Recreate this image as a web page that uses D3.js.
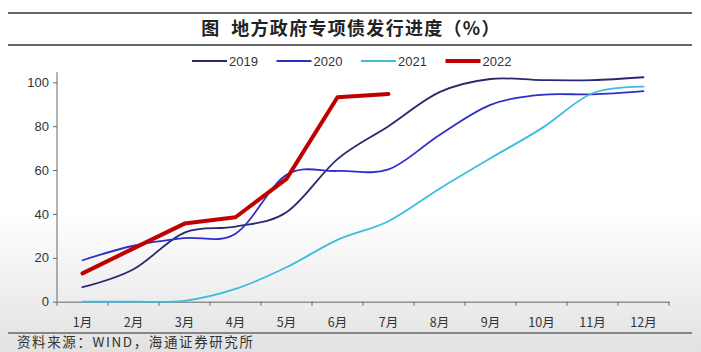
<!DOCTYPE html>
<html>
<head>
<meta charset="utf-8">
<script src="https://cdn.jsdelivr.net/npm/d3@7"></script>
<style>
  html, body { margin: 0; padding: 0; background: #fff; }
  svg { display: block; }
  text { font-family: "Liberation Sans", Arial, "Noto Sans CJK SC", sans-serif; fill: #333; }
</style>
</head>
<body>
<div id="chart"></div>
<script>
(function () {
    // 数据
    const months = ["1月", "2月", "3月", "4月", "5月", "6月", "7月", "8月", "9月", "10月", "11月", "12月"];
    const seriesNames = ["2019", "2020", "2021", "2022"];
    const v2019 = [6.6, 14.8, 31.5, 34.2, 40.8, 65, 80, 95.5, 101.5, 101, 101, 102.3];
    const v2020 = [18.9, 25.5, 29, 31, 57.8, 59.6, 60.3, 76, 89.7, 94.3, 94.5, 96];
    const v2021 = [0, 0, 0.4, 5.8, 15.7, 28.2, 36.7, 51.5, 65.4, 79, 95, 98];
    const v2022 = [12.9, 24.3, 35.6, 38.5, 56, 93.2, 94.7];
    const yTicks = [0, 20, 40, 60, 80, 100];

    const seriesValues = [v2019, v2020, v2021, v2022];
    const colors = ["#2a2970", "#2f2fc8", "#3cbde0", "#c00000"];
    const widths = [1.8, 1.8, 1.8, 4];

    const W = 701, H = 352;
    const svg = d3.select("#chart").append("svg")
        .attr("width", W).attr("height", H);

    // 背景渐变（截图下部偏灰）
    const grad = svg.append("defs").append("linearGradient")
        .attr("id", "bg").attr("x1", 0).attr("y1", 0).attr("x2", 0).attr("y2", 1);
    grad.append("stop").attr("offset", "0%").attr("stop-color", "#ffffff");
    grad.append("stop").attr("offset", "60%").attr("stop-color", "#ffffff");
    grad.append("stop").attr("offset", "100%").attr("stop-color", "#e2e2e2");
    svg.append("rect").attr("width", W).attr("height", H).attr("fill", "url(#bg)");

    // 标题与分隔线
    svg.append("line").attr("x1", 8).attr("x2", 692).attr("y1", 13).attr("y2", 13)
        .attr("stroke", "#666").attr("stroke-width", 2);
    svg.append("line").attr("x1", 8).attr("x2", 692).attr("y1", 45).attr("y2", 45)
        .attr("stroke", "#666").attr("stroke-width", 2);
    svg.append("text")
        .attr("x", 351).attr("y", 35)
        .attr("text-anchor", "middle")
        .style("font-family", "'Noto Sans CJK SC', sans-serif")
        .style("font-size", "18px")
        .style("font-weight", "bold")
        .style("letter-spacing", "1.3px")
        .style("fill", "#222")
        .text("图\u00a0\u00a0地方政府专项债发行进度（%）");

    // 比例尺
    const x = d3.scaleBand().domain(months).range([57, 669]);
    const y = d3.scaleLinear().domain([0, 100]).range([301.7, 82.3]);

    // Y 轴
    const yAxis = svg.append("g")
        .attr("transform", "translate(57,0)")
        .call(d3.axisLeft(y).tickValues(yTicks).tickSize(4).tickSizeOuter(0));
    yAxis.select(".domain").attr("d", `M0,${y(0)}V${y(104.6)}`);
    yAxis.selectAll("path, line").attr("stroke", "#666");
    yAxis.selectAll("text")
        .style("font-size", "13px").style("fill", "#333")
        .attr("x", -8);

    // X 轴
    const xAxis = svg.append("g")
        .attr("transform", `translate(0,${y(0)})`)
        .call(d3.axisBottom(x).tickSize(0).tickSizeOuter(0));
    xAxis.selectAll("path").attr("stroke", "#666");
    xAxis.selectAll("text")
        .style("font-family", "'Noto Sans CJK SC', sans-serif")
        .style("font-size", "12.5px").style("fill", "#333")
        .attr("y", 16);
    // 类别分隔刻度
    xAxis.selectAll(".sep")
        .data(d3.range(months.length + 1))
        .enter().append("line")
        .attr("class", "sep")
        .attr("x1", i => x.range()[0] + i * x.bandwidth())
        .attr("x2", i => x.range()[0] + i * x.bandwidth())
        .attr("y1", 0).attr("y2", 4)
        .attr("stroke", "#666");

    // 折线
    const smooth = d3.line()
        .x((d, i) => x(months[i]) + x.bandwidth() / 2)
        .y(d => y(d))
        .curve(d3.curveCardinal.tension(0));
    const straight = d3.line()
        .x((d, i) => x(months[i]) + x.bandwidth() / 2)
        .y(d => y(d));

    seriesValues.forEach((vals, k) => {
        svg.append("path")
            .attr("d", k === 3 ? straight(vals) : smooth(vals))
            .attr("fill", "none")
            .attr("stroke", colors[k])
            .attr("stroke-width", widths[k])
            .attr("stroke-linejoin", "round")
            .attr("stroke-linecap", "round");
    });

    // 图例
    const legend = svg.selectAll(".legend")
        .data(seriesNames)
        .enter().append("g")
        .attr("class", "legend")
        .attr("transform", (d, i) => `translate(${192 + i * 84.5}, 61)`);
    legend.append("line")
        .attr("x1", 0).attr("x2", 35)
        .attr("stroke", (d, i) => colors[i])
        .attr("stroke-width", (d, i) => i === 3 ? 4 : 2);
    legend.append("text")
        .attr("x", 37).attr("y", 5)
        .style("font-size", "13px").style("fill", "#333")
        .text(d => d);

    // 数据来源
    svg.append("line").attr("x1", 8).attr("x2", 692).attr("y1", 333).attr("y2", 333)
        .attr("stroke", "#666").attr("stroke-width", 1.5);
    svg.append("text")
        .attr("x", 17).attr("y", 347)
        .style("font-family", "'Noto Sans CJK SC', sans-serif")
        .style("font-size", "13.5px")
        .style("letter-spacing", "1.6px")
        .style("fill", "#333")
        .text("资料来源：WIND，海通证券研究所");
})();
</script>
</body>
</html>
